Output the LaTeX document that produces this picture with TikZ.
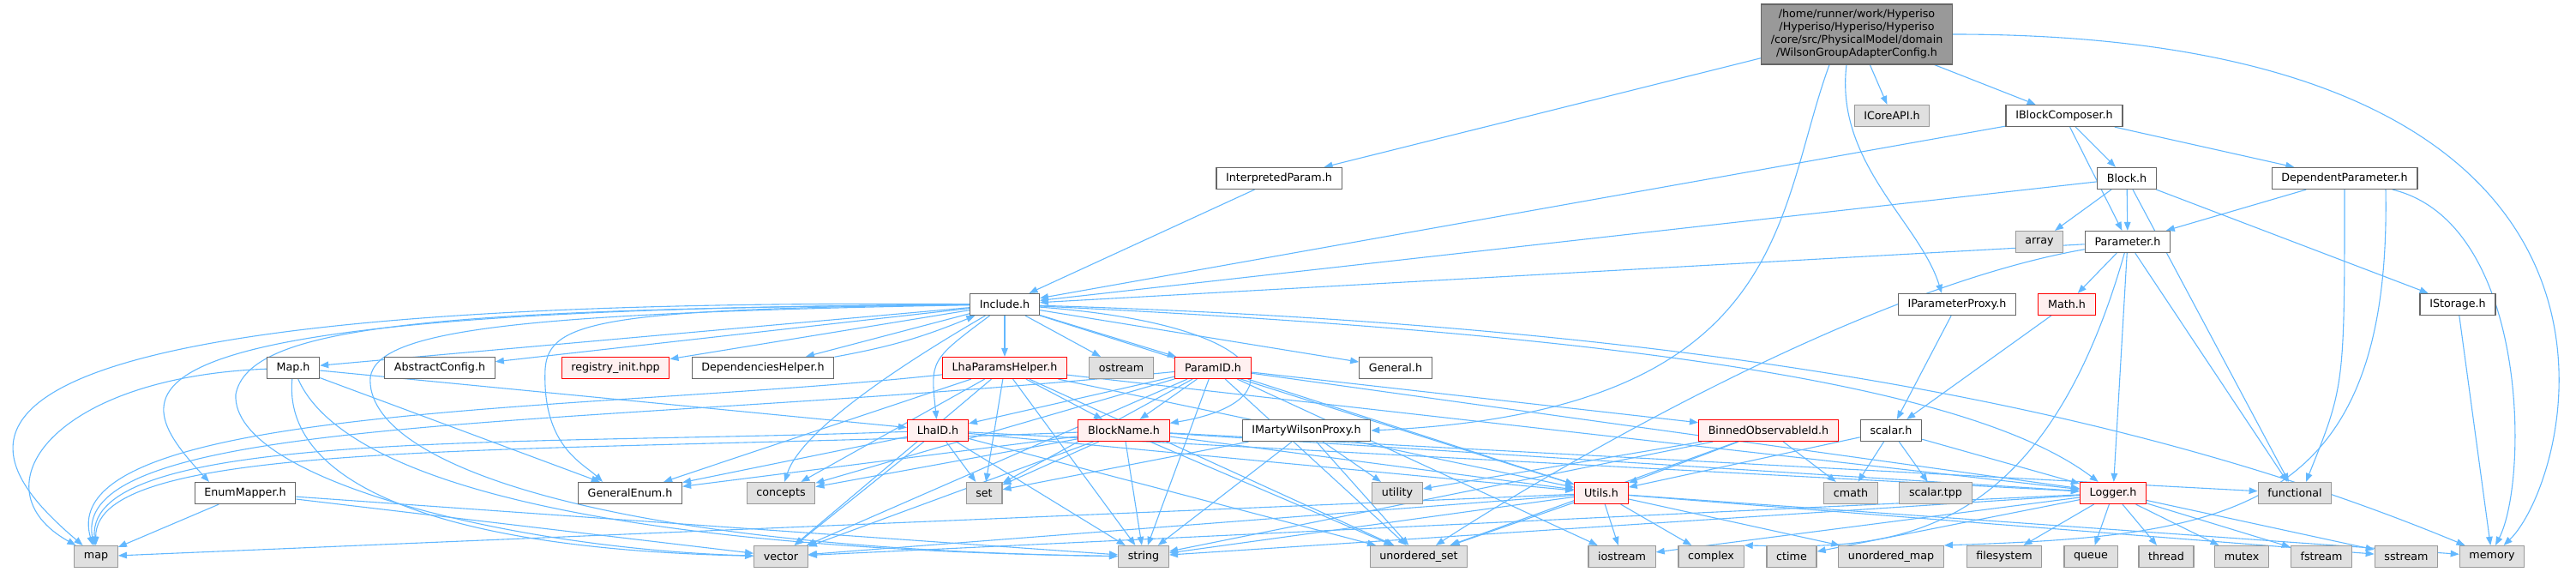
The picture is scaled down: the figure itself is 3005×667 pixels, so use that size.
\documentclass[tikz,border=0pt]{standalone}
\usepackage{fontspec}
\setmainfont{DejaVu Sans}
\usetikzlibrary{arrows.meta}
\definecolor{edgeblue}{HTML}{63B8FF}
\definecolor{grey40}{HTML}{666666}
\definecolor{grey60}{HTML}{999999}
\definecolor{grey90}{HTML}{E0E0E0}
\definecolor{pinkfill}{HTML}{FFF0F0}
\pgfdeclarelayer{background}
\pgfsetlayers{background,main}

\begin{document}
\begin{tikzpicture}[->,>={Triangle[length=5pt,width=3.8pt]},x=0.5pt,y=-0.5pt,
  inc line/.style={draw=edgeblue,line width=0.55pt},
  every edge/.style={inc line},
  file box/.style={draw=grey40,fill=white,line width=0.6pt,inner xsep=5.6pt,inner ysep=0pt,
    minimum height=12.5pt,font=\fontsize{6.35}{7.5}\selectfont},
  sys box/.style={file box,draw=grey60,fill=grey90},
  red box/.style={file box,draw=red,fill=pinkfill},
  root box/.style={file box,fill=grey60,align=center,minimum height=35pt}]

  \useasboundingbox (0,0) rectangle (3005,667);

  % top of the graph
  \node[root box] (main) at (2166,40) {/home/runner/work/Hyperiso\\/Hyperiso/Hyperiso/Hyperiso\\/core/src/PhysicalModel/domain\\/WilsonGroupAdapterConfig.h};
  \node[sys box] (icore) at (2207,135) {ICoreAPI.h};
  \node[file box] (iblock) at (2408,135) {IBlockComposer.h};
  \node[file box] (interp) at (1492,208) {InterpretedParam.h};
  \node[file box] (block) at (2481,208) {Block.h};
  \node[file box] (deppar) at (2735,208) {DependentParameter.h};
  \node[sys box] (array) at (2379,282) {array};
  \node[file box] (param) at (2482,282) {Parameter.h};

  \node[file box] (incl) at (1172,355) {Include.h};
  \node[file box] (iproxy) at (2283,355) {IParameterProxy.h};
  \node[red box] (math) at (2411,355) {Math.h};
  \node[file box] (istorage) at (2867,355) {IStorage.h};

  \node[file box] (mapH) at (342,429) {Map.h};
  \node[file box] (absconf) at (513,429) {AbstractConfig.h};
  \node[red box] (reginit) at (718,429) {registry\_init.hpp};
  \node[file box] (dephelp) at (890,429) {DependenciesHelper.h};
  \node[red box] (lhaph) at (1172,429) {LhaParamsHelper.h};
  \node[sys box] (ostream) at (1308,429) {ostream};
  \node[red box] (paramid) at (1415,429) {ParamID.h};
  \node[file box] (general) at (1628,429) {General.h};

  \node[red box] (lhaid) at (1094,502) {LhaID.h};
  \node[red box] (blockname) at (1311,502) {BlockName.h};
  \node[file box] (marty) at (1524,502) {IMartyWilsonProxy.h};
  \node[red box] (binned) at (2063,502) {BinnedObservableId.h};
  \node[file box] (scalarh) at (2206,502) {scalar.h};

  \node[file box] (enummap) at (286,575) {EnumMapper.h};
  \node[file box] (genenum) at (735,575) {GeneralEnum.h};
  \node[sys box] (concepts) at (911,575) {concepts};
  \node[sys box] (set) at (1148,575) {set};
  \node[sys box] (utility) at (1630,575) {utility};
  \node[red box] (utils) at (1868,575) {Utils.h};
  \node[sys box] (cmath) at (2159,575) {cmath};
  \node[sys box] (scalartpp) at (2258,575) {scalar.tpp};
  \node[red box] (logger) at (2465,575) {Logger.h};
  \node[sys box] (functional) at (2677,575) {functional};

  % standard headers
  \node[sys box] (map) at (112,649) {map};
  \node[sys box] (vector) at (911,649) {vector};
  \node[sys box] (string) at (1334,649) {string};
  \node[sys box] (uset) at (1655,649) {unordered\_set};
  \node[sys box] (iostream) at (1892,649) {iostream};
  \node[sys box] (complex) at (1996,649) {complex};
  \node[sys box] (ctime) at (2090,649) {ctime};
  \node[sys box] (umap) at (2206,649) {unordered\_map};
  \node[sys box] (filesystem) at (2338,649) {filesystem};
  \node[sys box] (queue) at (2439,649) {queue};
  \node[sys box] (thread) at (2527,649) {thread};
  \node[sys box] (mutex) at (2615,649) {mutex};
  \node[sys box] (fstream) at (2708,649) {fstream};
  \node[sys box] (sstream) at (2807,649) {sstream};
  \node[sys box] (memory) at (2907,649) {memory};

  \begin{pgfonlayer}{background}
  \path
    (main) edge (interp) edge (icore) edge (iblock)
    (interp) edge (incl)
    (iblock) edge (incl) edge (block) edge (param) edge (deppar)
    (block) edge (incl) edge (array) edge (param) edge (functional) edge (istorage)
    (deppar) edge (param)
    (param) edge (incl) edge (math) edge (logger) edge (functional)
    (istorage) edge (memory)
    (iproxy) edge (scalarh)
    (math) edge (scalarh)
    (incl) edge (mapH) edge (absconf) edge (reginit) edge (dephelp) edge (lhaph)
           edge (ostream) edge (paramid) edge (general) edge (utils)
    (dephelp) edge[bend right=6] (incl)
    (mapH) edge (lhaid) edge (genenum)
    (enummap) edge (map) edge (vector) edge (string)
    (lhaph) edge (set) edge (blockname) edge (concepts) edge (genenum) edge (vector)
            edge (string) edge (utils) edge (logger) edge (uset)
    (paramid) edge (lhaid) edge (blockname) edge (set) edge (string) edge (concepts)
              edge (vector) edge (utils) edge (logger) edge (binned) edge (uset) edge (iostream)
    (lhaid) edge (set) edge (vector) edge (string) edge (genenum) edge (utils)
            edge (logger) edge (uset)
    (blockname) edge (string) edge (vector) edge (set) edge (concepts) edge (genenum)
                edge (utils) edge (logger) edge (uset) edge (functional)
    (marty) edge (set) edge (utility) edge (uset) edge (string)
    (binned) edge (utility) edge (utils) edge (uset) edge (cmath) edge (string)
    (scalarh) edge (utils) edge (cmath) edge (scalartpp) edge (logger)
    (utils) edge (map) edge (vector) edge (string) edge (uset) edge (iostream)
            edge (complex) edge (umap) edge (memory) edge (sstream)
    (logger) edge (filesystem) edge (queue) edge (thread) edge (mutex) edge (fstream)
             edge (sstream) edge (iostream) edge (string) edge (vector) edge (ctime);

  % long curved connectors
  \draw[inc line] (main.east) .. controls (3150,40) and (3000,560) .. (memory);
  \draw[inc line] ([xshift=-16pt]main.south) .. controls (2070,250) and (2090,480) .. (marty.east);
  \draw[inc line] ([xshift=-6pt]main.south) .. controls (2140,190) and (2240,260) .. ([xshift=-9pt]iproxy.north);
  \draw[inc line] (deppar) .. controls (2735,450) .. ([xshift=6.5pt]functional.north);
  \draw[inc line] ([xshift=24pt]deppar.south) .. controls (2790,600) and (2600,625) .. (umap.north east);
  \draw[inc line] ([xshift=28pt]deppar.south) .. controls (2950,260) and (2950,560) .. ([xshift=2pt]memory.north);
  \draw[inc line] (param) .. controls (2150,340) and (1760,580) .. (uset);
  \draw[inc line] (param) .. controls (2380,640) and (2200,640) .. (complex.north east);
  \draw[inc line] (incl) .. controls (-150,345) and (-40,520) .. (map);
  \draw[inc line] (incl) .. controls (100,360) and (140,450) .. ([xshift=-21pt]enummap.north);
  \draw[inc line] (incl) .. controls (700,360) and (640,375) .. (636,430)
                         .. controls (632,520) and (680,540) .. ([xshift=-16pt]genenum.north);
  \draw[inc line] (incl) .. controls (1085,420) .. (lhaid);
  \draw[inc line] (incl) .. controls (1500,380) and (1510,470) .. (blockname);
  \draw[inc line] (incl) .. controls (1060,420) and (935,500) .. (concepts);
  \draw[inc line] (incl) .. controls (500,360) and (290,380) .. (275,460)
                         .. controls (270,560) and (600,640) .. (vector);
  \draw[inc line] (incl) .. controls (600,365) and (440,385) .. (432,440)
                         .. controls (425,540) and (700,640) .. (string);
  \draw[inc line] (incl) .. controls (1900,390) and (2300,450) .. (logger);
  \draw[inc line] (incl) .. controls (2000,380) and (2500,480) .. (memory);
  \draw[inc line] (mapH) .. controls (60,440) and (-30,570) .. (map);
  \draw[inc line] (mapH) .. controls (330,560) and (500,640) .. (vector);
  \draw[inc line] (mapH) .. controls (400,560) and (700,640) .. (string);
  \draw[inc line] (lhaph) .. controls (700,480) and (60,470) .. (map);
  \draw[inc line] (paramid) .. controls (700,500) and (80,480) .. (map);
  \draw[inc line] (lhaid) .. controls (600,520) and (100,500) .. (map);
  \draw[inc line] (blockname) .. controls (600,530) and (110,510) .. (map);
  \end{pgfonlayer}
\end{tikzpicture}
\end{document}
